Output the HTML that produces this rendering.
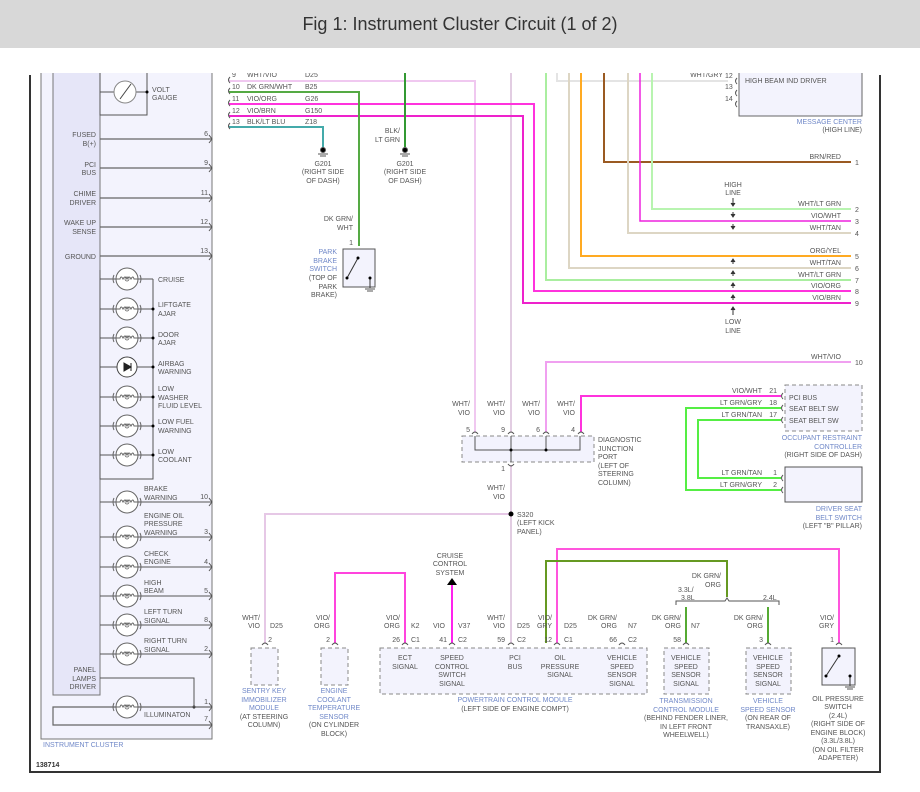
<!DOCTYPE html>
<html><head><meta charset="utf-8"><style>
html,body{margin:0;padding:0;background:#fff}
svg{display:block}
text{font-family:"Liberation Sans",sans-serif;font-size:7px;fill:#555}
.b{fill:#7088c8}
.t{font-size:18px;fill:#333}
</style></head><body>
<svg width="920" height="792" viewBox="0 0 920 792" xmlns="http://www.w3.org/2000/svg">
<defs>
<g id="lamp">
<circle cx="0" cy="0" r="11" fill="#fff" stroke="#666" stroke-width="1"/>
<path d="M-13,-4 Q-15,0 -13,4 M13,-4 Q15,0 13,4" stroke="#666" fill="none"/>
<path d="M-11,0 L-7,0 Q-6,-4 -4,0 Q-2,-4 0,0 Q2,-4 4,0 Q6,-4 7,0 L11,0" stroke="#666" fill="none"/>
<circle cx="0" cy="0" r="2" fill="none" stroke="#666" stroke-width="0.8"/>
</g>
<path id="pin" d="M-3,-2 L0,2 L-3,6" stroke="#555" fill="none"/>
</defs>

<!-- frame -->
<path d="M30,75 V772 H880 V75" fill="none" stroke="#333" stroke-width="2"/>

<!-- instrument cluster -->
<rect x="41" y="60" width="171" height="679" fill="#f3f3fd" stroke="#777"/>
<rect x="53" y="60" width="47" height="635" fill="#e6e6f8" stroke="#777"/>
<path d="M100,60 V115 H147 V60" fill="none" stroke="#555"/>
<line x1="100" y1="92" x2="114" y2="92" stroke="#555"/>
<line x1="136" y1="92" x2="147" y2="92" stroke="#555"/>
<circle cx="125" cy="92" r="11" fill="#fff" stroke="#888"/>
<line x1="120" y1="99" x2="131" y2="84" stroke="#444"/>
<circle cx="147" cy="92" r="1.5" fill="#000"/>
<text x="152" y="92">VOLT</text><text x="152" y="100">GAUGE</text>

<g stroke="#666" stroke-width="1.2">
<line x1="100" y1="139" x2="212" y2="139"/>
<line x1="100" y1="168" x2="212" y2="168"/>
<line x1="100" y1="198" x2="212" y2="198"/>
<line x1="100" y1="227" x2="212" y2="227"/>
<line x1="100" y1="256" x2="212" y2="256"/>
</g>
<g text-anchor="end">
<text x="96" y="137">FUSED</text><text x="96" y="146">B(+)</text>
<text x="96" y="167">PCI</text><text x="96" y="175">BUS</text>
<text x="96" y="196">CHIME</text><text x="96" y="205">DRIVER</text>
<text x="96" y="225">WAKE UP</text><text x="96" y="234">SENSE</text>
<text x="96" y="259">GROUND</text>
</g>
<g text-anchor="end">
<text x="208" y="136">6</text><text x="208" y="165">9</text><text x="208" y="195">11</text><text x="208" y="224">12</text><text x="208" y="253">13</text>
<text x="208" y="499">10</text><text x="208" y="534">3</text><text x="208" y="564">4</text><text x="208" y="593">5</text><text x="208" y="622">8</text><text x="208" y="651">2</text><text x="208" y="704">1</text><text x="208" y="721">7</text>
</g>
<path d="M100,270 V479 H153 V279" fill="none" stroke="#555"/>
<g stroke="#555">
<line x1="100" y1="279" x2="153" y2="279"/><line x1="100" y1="309" x2="153" y2="309"/><line x1="100" y1="338" x2="153" y2="338"/><line x1="100" y1="367" x2="153" y2="367"/><line x1="100" y1="397" x2="153" y2="397"/><line x1="100" y1="426" x2="153" y2="426"/><line x1="100" y1="455" x2="153" y2="455"/>
<line x1="100" y1="502" x2="212" y2="502"/><line x1="100" y1="537" x2="212" y2="537"/><line x1="100" y1="567" x2="212" y2="567"/><line x1="100" y1="596" x2="212" y2="596"/><line x1="100" y1="625" x2="212" y2="625"/><line x1="100" y1="654" x2="212" y2="654"/>
</g>
<use href="#lamp" x="127" y="279"/><use href="#lamp" x="127" y="309"/><use href="#lamp" x="127" y="338"/>
<circle cx="127" cy="367" r="10" fill="#fff" stroke="#444"/><path d="M124,363 L131,367 L124,371 Z M131,363 V371" fill="#222" stroke="#222"/>
<use href="#lamp" x="127" y="397"/><use href="#lamp" x="127" y="426"/><use href="#lamp" x="127" y="455"/>
<use href="#lamp" x="127" y="502"/><use href="#lamp" x="127" y="537"/><use href="#lamp" x="127" y="567"/><use href="#lamp" x="127" y="596"/><use href="#lamp" x="127" y="625"/><use href="#lamp" x="127" y="654"/>
<g fill="#000"><circle cx="153" cy="309" r="1.5"/><circle cx="153" cy="338" r="1.5"/><circle cx="153" cy="367" r="1.5"/><circle cx="153" cy="397" r="1.5"/><circle cx="153" cy="426" r="1.5"/><circle cx="153" cy="455" r="1.5"/><circle cx="194" cy="707" r="1.5"/></g>
<text x="158" y="282">CRUISE</text>
<text x="158" y="307">LIFTGATE</text><text x="158" y="316">AJAR</text>
<text x="158" y="337">DOOR</text><text x="158" y="345">AJAR</text>
<text x="158" y="366">AIRBAG</text><text x="158" y="374">WARNING</text>
<text x="158" y="391">LOW</text><text x="158" y="400">WASHER</text><text x="158" y="408">FLUID LEVEL</text>
<text x="158" y="424">LOW FUEL</text><text x="158" y="433">WARNING</text>
<text x="158" y="454">LOW</text><text x="158" y="462">COOLANT</text>
<text x="144" y="491">BRAKE</text><text x="144" y="500">WARNING</text>
<text x="144" y="518">ENGINE OIL</text><text x="144" y="526">PRESSURE</text><text x="144" y="535">WARNING</text>
<text x="144" y="556">CHECK</text><text x="144" y="564">ENGINE</text>
<text x="144" y="585">HIGH</text><text x="144" y="593">BEAM</text>
<text x="144" y="614">LEFT TURN</text><text x="144" y="623">SIGNAL</text>
<text x="144" y="643">RIGHT TURN</text><text x="144" y="652">SIGNAL</text>
<g text-anchor="end"><text x="96" y="672">PANEL</text><text x="96" y="681">LAMPS</text><text x="96" y="689">DRIVER</text></g>
<path d="M100,678 H194 V707" fill="none" stroke="#555"/>
<path d="M212,707 H53 V725 H212" fill="none" stroke="#666" stroke-width="1.2"/>
<use href="#lamp" x="127" y="707"/>
<text x="144" y="717">ILLUMINATON</text>
<text x="43" y="747" class="b">INSTRUMENT CLUSTER</text>
<text x="36" y="767" style="font-weight:bold;fill:#333">138714</text>
<g><use href="#pin" x="212" y="137"/><use href="#pin" x="212" y="166"/><use href="#pin" x="212" y="196"/><use href="#pin" x="212" y="225"/><use href="#pin" x="212" y="254"/><use href="#pin" x="212" y="500"/><use href="#pin" x="212" y="535"/><use href="#pin" x="212" y="565"/><use href="#pin" x="212" y="594"/><use href="#pin" x="212" y="623"/><use href="#pin" x="212" y="652"/><use href="#pin" x="212" y="705"/><use href="#pin" x="212" y="723"/></g>

<g fill="none" stroke-width="2">
<path d="M229,81 H475 V432" stroke="#f0c8f0"/>
<path d="M511,60 V432" stroke="#e2cde2"/>
<path d="M229,104 H534 V291 H851" stroke="#ff33dd"/>
<path d="M229,116 H523 V303 H851" stroke="#ee22cc"/>
<path d="M229,92 H359 V246" stroke="#55aa44"/>
<path d="M229,127 H323 V148" stroke="#44aaaa"/>
<path d="M405,60 V147" stroke="#339933"/>
<path d="M546,60 V280 H851" stroke="#aaeea0"/>
<path d="M557,60 V81 H728" stroke="#e4e4e4"/>
<path d="M569,60 V268 H851" stroke="#ddd6c4"/>
<path d="M581,60 V256 H851" stroke="#ffaa22"/>
<path d="M604,60 V162 H851" stroke="#9a5a22"/>
<path d="M628,60 V233 H851" stroke="#ddd6c4"/>
<path d="M640,60 V221 H851" stroke="#ee22dd" stroke-width="1.5"/>
<path d="M652,60 V209 H851" stroke="#b8f4b0"/>
<path d="M851,362 H546 V432" stroke="#f0a0f0"/>
<path d="M581,432 V396 H781" stroke="#ff33dd"/>
<path d="M781,408 H686 V490 H781" stroke="#55ee44"/>
<path d="M781,420 H698 V478 H781" stroke="#55ee44"/>
<path d="M511,465 V643" stroke="#e2cde2"/>
<path d="M511,514 H265 V643" stroke="#e6c8e6"/>
<path d="M405,643 V573 H335 V643" stroke="#ff44dd"/>
<path d="M452,643 V583" stroke="#ff22ee"/>
<path d="M557,643 V549 H839 V643" stroke="#ff55dd"/>
<path d="M546,643 V561 H727 V597" stroke="#669922"/>
<path d="M686,607 V643" stroke="#55aa33"/>
<path d="M768,607 V643" stroke="#55aa33"/>
</g>
<g>
<text x="232" y="77">9</text><text x="247" y="77">WHT/VIO</text><text x="305" y="77">D25</text>
<text x="232" y="89">10</text><text x="247" y="89">DK GRN/WHT</text><text x="305" y="89">B25</text>
<text x="232" y="101">11</text><text x="247" y="101">VIO/ORG</text><text x="305" y="101">G26</text>
<text x="232" y="113">12</text><text x="247" y="113">VIO/BRN</text><text x="305" y="113">G150</text>
<text x="232" y="124">13</text><text x="247" y="124">BLK/LT BLU</text><text x="305" y="124">Z18</text>
</g>
<path d="M230,77 q-3,3 0,6 M230,88 q-3,3 0,6 M230,100 q-3,3 0,6 M230,112 q-3,3 0,6 M230,123 q-3,3 0,6" fill="none" stroke="#555"/>
<g fill="#000" stroke="#555">
<circle cx="323" cy="150" r="2.5"/><line x1="318" y1="154" x2="328" y2="154"/><line x1="320" y1="156" x2="326" y2="156"/>
<circle cx="405" cy="150" r="2.5"/><line x1="400" y1="154" x2="410" y2="154"/><line x1="402" y1="156" x2="408" y2="156"/>
</g>
<g text-anchor="middle">
<text x="323" y="166">G201</text><text x="323" y="174">(RIGHT SIDE</text><text x="323" y="183">OF DASH)</text>
<text x="405" y="166">G201</text><text x="405" y="174">(RIGHT SIDE</text><text x="405" y="183">OF DASH)</text>
</g>
<g text-anchor="end"><text x="400" y="133">BLK/</text><text x="400" y="142">LT GRN</text>
<text x="353" y="221">DK GRN/</text><text x="353" y="230">WHT</text><text x="353" y="245">1</text></g>
<rect x="343" y="249" width="32" height="38" fill="#f3f3fd" stroke="#555"/>
<path d="M347,278 L358,258 M370,278 V288" stroke="#333"/><circle cx="358" cy="258" r="1.5"/><circle cx="347" cy="278" r="1.5"/><circle cx="370" cy="278" r="1.5"/>
<path d="M365,289 H375 M367,291 H373" stroke="#555"/>
<g text-anchor="end"><text x="337" y="254" class="b">PARK</text><text x="337" y="263" class="b">BRAKE</text><text x="337" y="271" class="b">SWITCH</text>
<text x="337" y="280">(TOP OF</text><text x="337" y="289">PARK</text><text x="337" y="297">BRAKE)</text></g>

<rect x="739" y="60" width="123" height="56" fill="#f3f3fd" stroke="#666"/>
<text x="745" y="83">HIGH BEAM IND DRIVER</text>
<text x="723" y="77" text-anchor="end">WHT/GRY</text>
<text x="725" y="78">12</text><text x="725" y="89">13</text><text x="725" y="101">14</text>
<path d="M737,78 q-3,3 0,6 M737,90 q-3,3 0,6 M737,101 q-3,3 0,6" fill="none" stroke="#555"/>
<g text-anchor="end"><text x="862" y="124" class="b">MESSAGE CENTER</text><text x="862" y="132">(HIGH LINE)</text></g>
<g text-anchor="end">
<text x="841" y="159">BRN/RED</text><text x="841" y="206">WHT/LT GRN</text><text x="841" y="218">VIO/WHT</text><text x="841" y="230">WHT/TAN</text>
<text x="841" y="253">ORG/YEL</text><text x="841" y="265">WHT/TAN</text><text x="841" y="277">WHT/LT GRN</text><text x="841" y="288">VIO/ORG</text><text x="841" y="300">VIO/BRN</text>
<text x="841" y="359">WHT/VIO</text>
</g>
<g><text x="855" y="165">1</text><text x="855" y="212">2</text><text x="855" y="224">3</text><text x="855" y="236">4</text><text x="855" y="259">5</text><text x="855" y="271">6</text><text x="855" y="283">7</text><text x="855" y="294">8</text><text x="855" y="306">9</text><text x="855" y="365">10</text></g>
<g text-anchor="middle"><text x="733" y="187">HIGH</text><text x="733" y="195">LINE</text><text x="733" y="324">LOW</text><text x="733" y="333">LINE</text></g>
<g stroke="#333" fill="#333">
<path d="M733,198 V206 M731,203 L733,206 L735,203"/><path d="M733,212 V217 M731,214 L733,217 L735,214"/><path d="M733,224 V229 M731,226 L733,229 L735,226"/>
<path d="M733,259 V264 M731,262 L733,259 L735,262"/><path d="M733,271 V276 M731,274 L733,271 L735,274"/><path d="M733,283 V288 M731,286 L733,283 L735,286"/><path d="M733,295 V300 M731,298 L733,295 L735,298"/><path d="M733,307 V315 M731,310 L733,307 L735,310"/>
</g>

<rect x="462" y="436" width="132" height="26" fill="#f3f3fd" stroke="#888" stroke-dasharray="4,3"/>
<path d="M475,436 V450 H580 V436 M511,436 V462 M546,436 V450" fill="none" stroke="#555"/>
<circle cx="511" cy="450" r="1.5"/><circle cx="546" cy="450" r="1.5"/>
<path d="M472,434 q3,-4 6,0 M508,434 q3,-4 6,0 M543,434 q3,-4 6,0 M578,434 q3,-4 6,0 M508,464 q3,4 6,0" fill="none" stroke="#555"/>
<g text-anchor="end">
<text x="470" y="406">WHT/</text><text x="470" y="415">VIO</text><text x="470" y="432">5</text>
<text x="505" y="406">WHT/</text><text x="505" y="415">VIO</text><text x="505" y="432">9</text>
<text x="540" y="406">WHT/</text><text x="540" y="415">VIO</text><text x="540" y="432">6</text>
<text x="575" y="406">WHT/</text><text x="575" y="415">VIO</text><text x="575" y="432">4</text>
<text x="505" y="471">1</text><text x="505" y="490">WHT/</text><text x="505" y="499">VIO</text>
</g>
<text x="598" y="442">DIAGNOSTIC</text><text x="598" y="451">JUNCTION</text><text x="598" y="459">PORT</text><text x="598" y="468">(LEFT OF</text><text x="598" y="476">STEERING</text><text x="598" y="485">COLUMN)</text>
<circle cx="511" cy="514" r="2.5" fill="#000"/>
<text x="517" y="517">S320</text><text x="517" y="525">(LEFT KICK</text><text x="517" y="534">PANEL)</text>

<rect x="785" y="385" width="77" height="46" fill="#f3f3fd" stroke="#888" stroke-dasharray="4,3"/>
<text x="789" y="400">PCI BUS</text><text x="789" y="411">SEAT BELT SW</text><text x="789" y="423">SEAT BELT SW</text>
<g text-anchor="end"><text x="762" y="393">VIO/WHT</text><text x="777" y="393">21</text>
<text x="762" y="405">LT GRN/GRY</text><text x="777" y="405">18</text>
<text x="762" y="417">LT GRN/TAN</text><text x="777" y="417">17</text>
<text x="762" y="475">LT GRN/TAN</text><text x="777" y="475">1</text>
<text x="762" y="487">LT GRN/GRY</text><text x="777" y="487">2</text>
<text x="862" y="440" class="b">OCCUPANT RESTRAINT</text><text x="862" y="449" class="b">CONTROLLER</text><text x="862" y="457">(RIGHT SIDE OF DASH)</text>
<text x="862" y="511" class="b">DRIVER SEAT</text><text x="862" y="520" class="b">BELT SWITCH</text><text x="862" y="528">(LEFT "B" PILLAR)</text></g>
<path d="M783,393 q-3,3 0,6 M783,405 q-3,3 0,6 M783,417 q-3,3 0,6 M783,475 q-3,3 0,6 M783,487 q-3,3 0,6" fill="none" stroke="#555"/>
<rect x="785" y="467" width="77" height="35" fill="#f3f3fd" stroke="#555"/>

<g text-anchor="middle"><text x="450" y="558">CRUISE</text><text x="450" y="566">CONTROL</text><text x="450" y="575">SYSTEM</text></g>
<path d="M447,585 L452,578 L457,585 Z" fill="#000"/>
<rect x="251" y="648" width="27" height="37" fill="#f3f3fd" stroke="#888" stroke-dasharray="4,3"/>
<rect x="321" y="648" width="27" height="37" fill="#f3f3fd" stroke="#888" stroke-dasharray="4,3"/>
<rect x="380" y="648" width="267" height="46" fill="#f3f3fd" stroke="#888" stroke-dasharray="4,3"/>
<rect x="664" y="648" width="45" height="46" fill="#f3f3fd" stroke="#888" stroke-dasharray="4,3"/>
<rect x="746" y="648" width="45" height="46" fill="#f3f3fd" stroke="#888" stroke-dasharray="4,3"/>
<rect x="822" y="648" width="33" height="37" fill="#f3f3fd" stroke="#555"/>
<path d="M826,676 L839,656 M850,676 V686" stroke="#333"/><circle cx="839" cy="656" r="1.5"/><circle cx="826" cy="676" r="1.5"/><circle cx="850" cy="676" r="1.5"/>
<path d="M845,687 H855 M847,689 H853" stroke="#555"/>
<path d="M262,645 q3,-4 6,0 M332,645 q3,-4 6,0 M402,645 q3,-4 6,0 M449,645 q3,-4 6,0 M508,645 q3,-4 6,0 M554,645 q3,-4 6,0 M619,645 q3,-4 6,0 M683,645 q3,-4 6,0 M765,645 q3,-4 6,0 M836,645 q3,-4 6,0" fill="none" stroke="#555"/>
<path d="M676,605 V601 H725 L727,598 L729,601 H779 V605" fill="none" stroke="#555"/>
<g text-anchor="end">
<text x="260" y="620">WHT/</text><text x="260" y="628">VIO</text><text x="272" y="642">2</text>
<text x="330" y="620">VIO/</text><text x="330" y="628">ORG</text><text x="330" y="642">2</text>
<text x="400" y="620">VIO/</text><text x="400" y="628">ORG</text><text x="400" y="642">26</text>
<text x="445" y="628">VIO</text><text x="447" y="642">41</text>
<text x="505" y="620">WHT/</text><text x="505" y="628">VIO</text><text x="505" y="642">59</text>
<text x="552" y="620">VIO/</text><text x="552" y="628">GRY</text><text x="552" y="642">12</text>
<text x="617" y="620">DK GRN/</text><text x="617" y="628">ORG</text><text x="617" y="642">66</text>
<text x="721" y="578">DK GRN/</text><text x="721" y="587">ORG</text>
<text x="681" y="620">DK GRN/</text><text x="681" y="628">ORG</text><text x="681" y="642">58</text>
<text x="763" y="620">DK GRN/</text><text x="763" y="628">ORG</text><text x="763" y="642">3</text>
<text x="834" y="620">VIO/</text><text x="834" y="628">GRY</text><text x="834" y="642">1</text>
</g>
<text x="270" y="628">D25</text>
<text x="411" y="628">K2</text><text x="411" y="642">C1</text>
<text x="458" y="628">V37</text><text x="458" y="642">C2</text>
<text x="517" y="628">D25</text><text x="517" y="642">C2</text>
<text x="564" y="628">D25</text><text x="564" y="642">C1</text>
<text x="628" y="628">N7</text><text x="628" y="642">C2</text>
<text x="691" y="628">N7</text>
<text x="678" y="592">3.3L/</text><text x="681" y="600">3.8L</text><text x="763" y="600">2.4L</text>
<g text-anchor="middle">
<text x="405" y="660">ECT</text><text x="405" y="669">SIGNAL</text>
<text x="452" y="660">SPEED</text><text x="452" y="669">CONTROL</text><text x="452" y="677">SWITCH</text><text x="452" y="686">SIGNAL</text>
<text x="515" y="660">PCI</text><text x="515" y="669">BUS</text>
<text x="560" y="660">OIL</text><text x="560" y="669">PRESSURE</text><text x="560" y="677">SIGNAL</text>
<text x="622" y="660">VEHICLE</text><text x="622" y="669">SPEED</text><text x="622" y="677">SENSOR</text><text x="622" y="686">SIGNAL</text>
<text x="686" y="660">VEHICLE</text><text x="686" y="669">SPEED</text><text x="686" y="677">SENSOR</text><text x="686" y="686">SIGNAL</text>
<text x="768" y="660">VEHICLE</text><text x="768" y="669">SPEED</text><text x="768" y="677">SENSOR</text><text x="768" y="686">SIGNAL</text>
<text x="264" y="693" class="b">SENTRY KEY</text><text x="264" y="702" class="b">IMMOBILIZER</text><text x="264" y="710" class="b">MODULE</text><text x="264" y="719">(AT STEERING</text><text x="264" y="727">COLUMN)</text>
<text x="334" y="693" class="b">ENGINE</text><text x="334" y="702" class="b">COOLANT</text><text x="334" y="710" class="b">TEMPERATURE</text><text x="334" y="719" class="b">SENSOR</text><text x="334" y="727">(ON CYLINDER</text><text x="334" y="736">BLOCK)</text>
<text x="515" y="702" class="b">POWERTRAIN CONTROL MODULE</text><text x="515" y="711">(LEFT SIDE OF ENGINE COMPT)</text>
<text x="686" y="703" class="b">TRANSMISSION</text><text x="686" y="712" class="b">CONTROL MODULE</text><text x="686" y="720">(BEHIND FENDER LINER,</text><text x="686" y="729">IN LEFT FRONT</text><text x="686" y="737">WHEELWELL)</text>
<text x="768" y="703" class="b">VEHICLE</text><text x="768" y="712" class="b">SPEED SENSOR</text><text x="768" y="720">(ON REAR OF</text><text x="768" y="729">TRANSAXLE)</text>
<text x="838" y="701">OIL PRESSURE</text><text x="838" y="709">SWITCH</text><text x="838" y="718">(2.4L)</text><text x="838" y="726">(RIGHT SIDE OF</text><text x="838" y="735">ENGINE BLOCK)</text><text x="838" y="743">(3.3L/3.8L)</text><text x="838" y="752">(ON OIL FILTER</text><text x="838" y="760">ADAPETER)</text>
</g>

<!-- top crop mask + header -->
<rect x="0" y="48" width="920" height="25" fill="#fff"/>
<rect x="0" y="0" width="920" height="48" fill="#d8d8d8"/>
<text x="460" y="30" text-anchor="middle" class="t">Fig 1: Instrument Cluster Circuit (1 of 2)</text>
</svg>
</body></html>
